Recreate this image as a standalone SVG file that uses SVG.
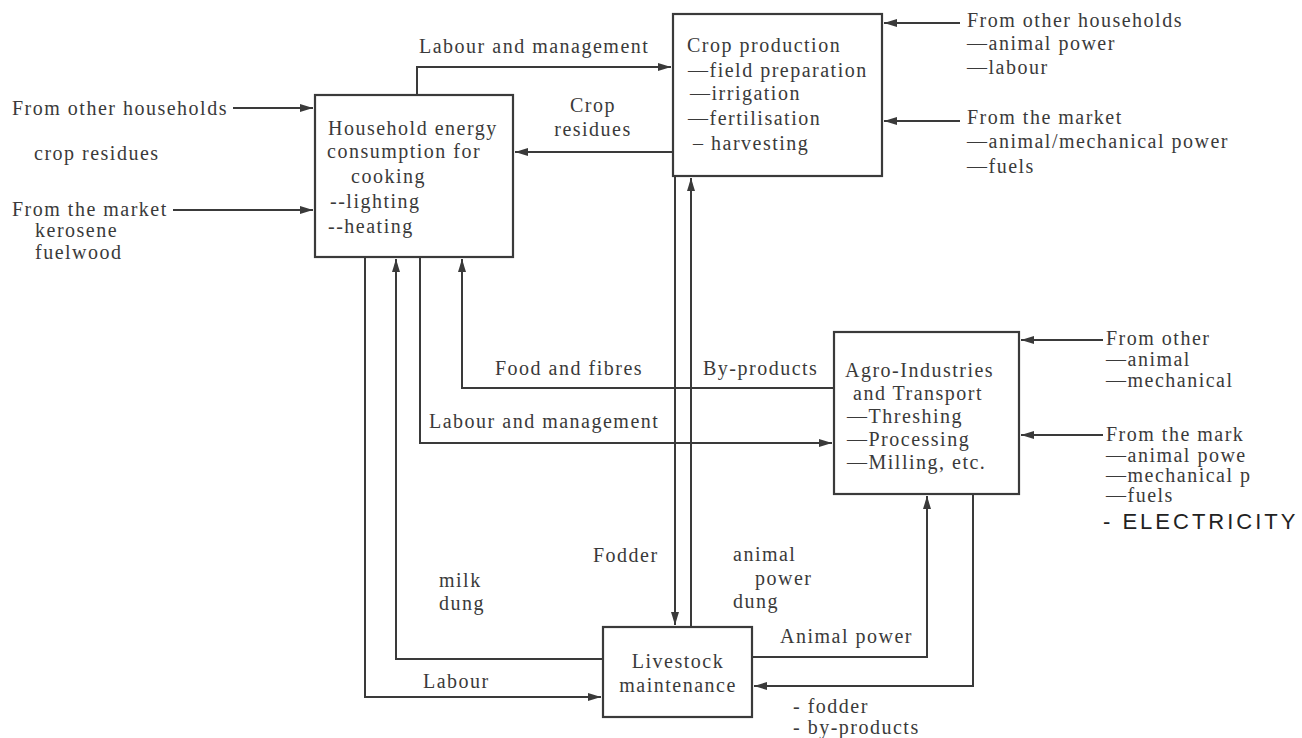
<svg xmlns="http://www.w3.org/2000/svg" width="1302" height="738" viewBox="0 0 1302 738">
<style>
text{font-family:"Liberation Serif","Times New Roman",serif;font-size:20px;fill:#3a3a3a;letter-spacing:1.5px}
.box{fill:none;stroke:#3a3a3a;stroke-width:2.2}
.ln{fill:none;stroke:#3a3a3a;stroke-width:2}
.c{text-anchor:middle}
.hw{font-family:"Liberation Sans",Arial,sans-serif;font-size:22px;fill:#222;letter-spacing:3px}
</style>
<defs>
<marker id="ah" markerUnits="userSpaceOnUse" markerWidth="14" markerHeight="10" refX="13" refY="5" orient="auto">
<path d="M0,1 L13,5 L0,9 z" fill="#3a3a3a"/>
</marker>
</defs>
<rect width="1302" height="738" fill="#fff"/>

<g id="connectors">
<path class="ln" d="M417,95 V67 H671" marker-end="url(#ah)"/>
<path class="ln" d="M673,152 H515" marker-end="url(#ah)"/>
<path class="ln" d="M233,108 H313" marker-end="url(#ah)"/>
<path class="ln" d="M173,210 H313" marker-end="url(#ah)"/>
<path class="ln" d="M960,23 H884" marker-end="url(#ah)"/>
<path class="ln" d="M960,121 H884" marker-end="url(#ah)"/>
<path class="ln" d="M365,257 V697 H601" marker-end="url(#ah)"/>
<path class="ln" d="M603,659 H396 V259" marker-end="url(#ah)"/>
<path class="ln" d="M420,257 V443 H832" marker-end="url(#ah)"/>
<path class="ln" d="M834,388 H462 V259" marker-end="url(#ah)"/>
<path class="ln" d="M675,176 V625" marker-end="url(#ah)"/>
<path class="ln" d="M691,627 V178" marker-end="url(#ah)"/>
<path class="ln" d="M752,657 H927 V496" marker-end="url(#ah)"/>
<path class="ln" d="M973,494 V686 H754" marker-end="url(#ah)"/>
<path class="ln" d="M1103,340 H1021" marker-end="url(#ah)"/>
<path class="ln" d="M1103,435 H1021" marker-end="url(#ah)"/>
</g>

<g id="connector-labels">
<text x="419" y="53">Labour and management</text>
<text class="c" x="593" y="112">Crop</text>
<text class="c" x="593" y="136">residues</text>
<text x="495" y="375">Food and fibres</text>
<text x="703" y="375">By-products</text>
<text x="429" y="428">Labour and management</text>
<text x="593" y="562">Fodder</text>
<text x="439" y="587">milk</text>
<text x="439" y="610">dung</text>
<text x="733" y="561">animal</text>
<text x="755" y="585">power</text>
<text x="733" y="608">dung</text>
<text x="780" y="643">Animal power</text>
<text x="423" y="688">Labour</text>
<text x="793" y="713">- fodder</text>
<text x="793" y="734">- by-products</text>
</g>

<g id="household-inputs">
<text x="12" y="115">From other households</text>
<text x="34" y="160">crop residues</text>
<text x="12" y="216">From the market</text>
<text x="35" y="237">kerosene</text>
<text x="35" y="259">fuelwood</text>
</g>

<g id="crop-inputs">
<text x="967" y="27">From other households</text>
<text x="967" y="50">—animal power</text>
<text x="967" y="74">—labour</text>
<text x="967" y="124">From the market</text>
<text x="967" y="148">—animal/mechanical power</text>
<text x="967" y="173">—fuels</text>
</g>

<g id="agro-inputs">
<text x="1106" y="345">From other</text>
<text x="1106" y="366">—animal</text>
<text x="1106" y="387">—mechanical</text>
<text x="1106" y="441">From the mark</text>
<text x="1106" y="462">—animal powe</text>
<text x="1106" y="482">—mechanical p</text>
<text x="1106" y="502">—fuels</text>
<text class="hw" x="1103" y="529">- ELECTRICITY</text>
</g>

<g id="household">
<rect class="box" x="315" y="95" width="198" height="162"/>
<text x="328" y="135">Household energy</text>
<text x="327" y="158">consumption for</text>
<text x="351" y="183">cooking</text>
<text x="330" y="208">--lighting</text>
<text x="328" y="233">--heating</text>
</g>

<g id="crop-production">
<rect class="box" x="673" y="14" width="209" height="162"/>
<text x="687" y="52">Crop production</text>
<text x="688" y="77">—field preparation</text>
<text x="690" y="100">—irrigation</text>
<text x="688" y="125">—fertilisation</text>
<text x="693" y="150">– harvesting</text>
</g>

<g id="agro-industries">
<rect class="box" x="834" y="332" width="185" height="162"/>
<text x="845" y="377">Agro-Industries</text>
<text x="853" y="400">and Transport</text>
<text x="847" y="423">—Threshing</text>
<text x="847" y="446">—Processing</text>
<text x="847" y="469">—Milling, etc.</text>
</g>

<g id="livestock">
<rect class="box" x="603" y="627" width="149" height="90"/>
<text class="c" x="678" y="668">Livestock</text>
<text class="c" x="678" y="692">maintenance</text>
</g>
</svg>
